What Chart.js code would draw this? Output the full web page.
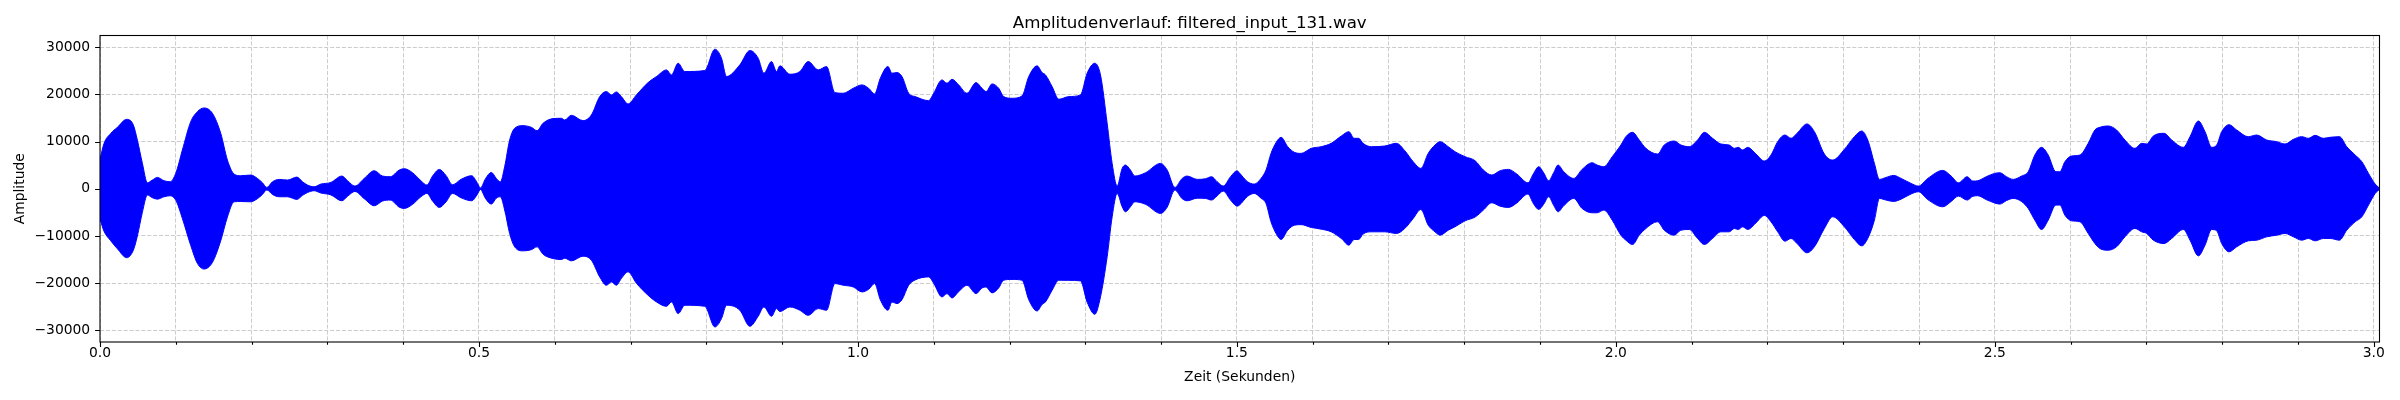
<!DOCTYPE html>
<html>
<head>
<meta charset="utf-8">
<title>Amplitudenverlauf</title>
<script src="https://cdn.jsdelivr.net/npm/chart.js@4.4.1/dist/chart.umd.min.js"></script>
<style>
  html, body { margin: 0; padding: 0; background: #fff; }
  #wave { display: block; }
</style>
</head>
<body>
<canvas id="wave" width="2400" height="400"></canvas>
<script>
// Envelope of the waveform (seconds / amplitude)
const times = [
  0.0000, 0.0053, 0.0141, 0.0229, 0.0352, 0.0440, 0.0493, 0.0559, 0.0625, 0.0691, 0.0757, 0.0845, 0.0924, 0.0999,
  0.1087, 0.1197, 0.1285, 0.1373, 0.1483, 0.1593, 0.1681, 0.1769, 0.1857, 0.1989, 0.2077, 0.2143, 0.2201, 0.2276,
  0.2364, 0.2474, 0.2597, 0.2672, 0.2738, 0.2826, 0.2914, 0.3046, 0.3191, 0.3266, 0.3363, 0.3486, 0.3618, 0.3728,
  0.3829, 0.3948, 0.4014, 0.4124, 0.4234, 0.4313, 0.4388, 0.4476, 0.4564, 0.4652, 0.4762, 0.4903, 0.4982,
  0.5018, 0.5088, 0.5163, 0.5229, 0.5282, 0.5339, 0.5405, 0.5471, 0.5581, 0.5691, 0.5766, 0.5845, 0.5977, 0.6087,
  0.6131, 0.6219, 0.6373, 0.6483, 0.6593, 0.6681, 0.6747, 0.6813, 0.6879, 0.6967, 0.7077, 0.7231, 0.7342, 0.7474,
  0.7540, 0.7628, 0.7716, 0.7980, 0.8112, 0.8200, 0.8266, 0.8442, 0.8574, 0.8684, 0.8759, 0.8860, 0.8926, 0.8970,
  0.9102, 0.9234, 0.9344, 0.9476, 0.9586, 0.9696, 0.9806, 0.9938,
  1.0053, 1.0141, 1.0220, 1.0295, 1.0396, 1.0449, 1.0515, 1.0581, 1.0669, 1.0757, 1.0933, 1.0999, 1.1109, 1.1175,
  1.1241, 1.1329, 1.1439, 1.1558, 1.1637, 1.1690, 1.1769, 1.1857, 1.1923, 1.2033, 1.2165, 1.2254, 1.2364, 1.2430,
  1.2474, 1.2562, 1.2650, 1.2782, 1.2936, 1.3024, 1.3125, 1.3200, 1.3288, 1.3354, 1.3420, 1.3486, 1.3530, 1.3596,
  1.3653, 1.3794, 1.3992, 1.4080, 1.4181, 1.4278, 1.4344, 1.4476, 1.4586, 1.4665, 1.4740, 1.4820, 1.4916, 1.5004,
  1.5031, 1.5141, 1.5229, 1.5318, 1.5384, 1.5450, 1.5516, 1.5583, 1.5671, 1.5759, 1.5847, 1.5980, 1.6112, 1.6244,
  1.6377, 1.6478, 1.6545, 1.6606, 1.6664, 1.6774, 1.6951, 1.7105, 1.7215, 1.7326, 1.7427, 1.7524, 1.7613, 1.7679,
  1.7789, 1.7877, 1.8010, 1.8142, 1.8252, 1.8363, 1.8473, 1.8583, 1.8694, 1.8839, 1.8914, 1.8981, 1.9047, 1.9113,
  1.9179, 1.9237, 1.9312, 1.9444, 1.9554, 1.9687, 1.9753, 1.9841, 1.9952,
  2.0066, 2.0132, 2.0220, 2.0308, 2.0396, 2.0550, 2.0638, 2.0770, 2.0858, 2.0968, 2.1078, 2.1167, 2.1276, 2.1386,
  2.1496, 2.1563, 2.1615, 2.1673, 2.1739, 2.1849, 2.1959, 2.2047, 2.2135, 2.2231, 2.2311, 2.2390, 2.2522, 2.2619,
  2.2751, 2.2861, 2.3015, 2.3147, 2.3244, 2.3323, 2.3411, 2.3477, 2.3565, 2.3666, 2.3763, 2.3895, 2.3992, 2.4115,
  2.4313, 2.4423, 2.4520, 2.4635, 2.4710, 2.4776, 2.4886, 2.4996,
  2.5066, 2.5154, 2.5242, 2.5352, 2.5440, 2.5528, 2.5616, 2.5704, 2.5805, 2.5858, 2.5924, 2.6012, 2.6122, 2.6232,
  2.6320, 2.6386, 2.6496, 2.6606, 2.6716, 2.6849, 2.6937, 2.7003, 2.7091, 2.7232, 2.7333, 2.7487, 2.7575, 2.7685,
  2.7773, 2.7861, 2.7927, 2.7993, 2.8090, 2.8191, 2.8345, 2.8455, 2.8587, 2.8719, 2.8829, 2.8939, 2.9049, 2.9137,
  2.9225, 2.9335, 2.9423, 2.9547, 2.9643, 2.9754, 2.9842, 2.9930, 3.0018, 3.0075
];

const upperEnvelope = [
  6200, 9600, 11700, 13000, 14700, 13500, 10300, 5400, 1270, 1840, 2400, 1700, 1480, 3250,
  8200, 14200, 16330, 17100, 15980, 11740, 6080, 3110, 2760, 2900, 2190, 1270, 280, 1480,
  1980, 1840, 2470, 1480, 780, 420, 990, 1340, 2690, 1700, 570, 2190, 3820, 2690,
  2550, 3960, 4240, 3390, 1700, 780, 2690, 4100, 2830, 850, 1980, 2760, 1130,
  150, 2190, 3460, 2190, 1480, 4670, 10320, 12800, 13360, 13010, 12300, 13860, 14850, 14920,
  14560, 15550, 14420, 15620, 19510, 20570, 19870, 20500, 19510, 17960, 19870, 22480, 23760, 25170,
  24110, 26580, 24820, 25030, 29550, 27640, 23760, 26240, 29270, 27640, 24460, 26940, 24820, 26020,
  24250, 24820, 26940, 25170, 25880, 20360, 20220, 21280,
  21990, 21280, 20080, 23400, 25880, 24460, 24600, 23760, 20220, 19510, 18660, 20220, 23050, 22340,
  23190, 21990, 20220, 22480, 21280, 20570, 22200, 21280, 19510, 19160, 19650, 23760, 26020, 24600,
  24110, 21630, 18950, 19510, 19870, 24460, 26580, 24110, 13860, 5370, 570, 4310, 5020, 3960,
  2690, 3390, 5370, 3960, 280, 2190, 2690, 1980, 2120, 2550, 1480, 570, 2550, 3820,
  3390, 1480, 990, 2190, 3960, 7490, 9760, 10890, 8910, 7710, 7490, 8550, 8910, 9620,
  11170, 12090, 10680, 10680, 9620, 8910, 9050, 9620, 8060, 5730, 4310, 7490, 9260, 9970,
  8910, 7850, 6790, 5940, 3960, 2900, 3820, 4100, 3110, 1270, 3250, 4670, 3390, 1700,
  3390, 5020, 3610, 2190, 4100, 5510, 5020, 4670, 6790,
  9260, 11030, 11950, 10320, 8550, 7350, 9260, 10110, 9260, 8910, 10320, 11950, 10680, 9470,
  9260, 8550, 8770, 8200, 8770, 7350, 5870, 7140, 9970, 11380, 10680, 11740, 13720, 12090,
  7350, 6080, 8340, 11030, 12230, 10320, 5370, 1980, 2400, 2830, 2190, 1130, 570, 2190,
  3890, 2690, 1270, 2550, 1630, 1700, 2550, 3250,
  3390, 2550, 1980, 2690, 3610, 7140, 8770, 7140, 3610, 3610, 5730, 6930, 7140, 9620,
  12440, 13010, 13290, 12440, 10320, 8550, 9620, 9470, 11170, 11740, 10320, 8770, 11030, 14350,
  12090, 8770, 9260, 12090, 13570, 12440, 11030, 11380, 10320, 9970, 9470, 10460, 11030, 10680,
  11310, 10680, 10890, 11030, 8910, 7140, 5730, 3250, 990, 140
];

const lowerEnvelope = [
  -6400, -9000, -11000, -12700, -14600, -13000, -10000, -5000, -1340, -1900, -2200, -1700, -1480, -2400,
  -6300, -12000, -15800, -17000, -15600, -11000, -6000, -2760, -2700, -2760, -2100, -1200, -250, -1200,
  -1700, -1700, -2260, -1400, -800, -420, -900, -1300, -2550, -1600, -570, -2100, -3600, -2600,
  -2400, -3900, -4170, -3300, -1700, -990, -2600, -3960, -2800, -990, -1900, -2550, -1100,
  -150, -2100, -3250, -2000, -1700, -4500, -9500, -12300, -13150, -12900, -12300, -13860, -14780, -14990,
  -14700, -15270, -14280, -15130, -18660, -20430, -19730, -20430, -19000, -17600, -20000, -22550, -23970, -24890,
  -23970, -26440, -24670, -24890, -29270, -27500, -24670, -25730, -29130, -27000, -25030, -27010, -25380, -26000,
  -25030, -25730, -26800, -25380, -25730, -20080, -20430, -20790,
  -21850, -21300, -20080, -23500, -25730, -24000, -24320, -23500, -20430, -19300, -18660, -20000, -22910, -22200,
  -23120, -21800, -20430, -22200, -21000, -20790, -22060, -21000, -19370, -19200, -19370, -23500, -25880, -24500,
  -23970, -21500, -19370, -19400, -19510, -24000, -26580, -22900, -14420, -5940, -990, -3800, -4880, -3800,
  -2760, -3300, -5230, -3900, -280, -2100, -2550, -2000, -2050, -2400, -1500, -500, -2400, -3680,
  -3500, -1600, -990, -2000, -3110, -7000, -9470, -10750, -8770, -7710, -7600, -8200, -8550, -9120,
  -10530, -11950, -10750, -10750, -9600, -9120, -9120, -9470, -8410, -6300, -4380, -7700, -9120, -9830,
  -8770, -8060, -6790, -6000, -4520, -2970, -3700, -3960, -3000, -1130, -3200, -4380, -3300, -1700,
  -3500, -4880, -3600, -2050, -4170, -5090, -5090, -4520, -6650,
  -9830, -10890, -11810, -9830, -8410, -7000, -8770, -9830, -8770, -8630, -10530, -11810, -10530, -9120,
  -9120, -8410, -8630, -8060, -8630, -7210, -5660, -7000, -9120, -11100, -10530, -11600, -13570, -12300,
  -8410, -5940, -8060, -10750, -12090, -10530, -6650, -2050, -2400, -2690, -2200, -1100, -640, -2300,
  -3820, -2700, -1560, -2400, -1600, -1480, -2300, -3000,
  -3250, -2500, -2050, -2700, -4170, -6650, -8630, -6650, -3460, -3460, -5590, -6790, -7000, -9470,
  -11600, -12660, -13010, -12300, -10180, -8410, -9120, -9470, -10890, -11600, -10530, -8630, -10890, -14210,
  -11950, -8630, -8910, -11600, -13360, -12300, -11030, -10890, -10180, -9830, -9470, -10180, -10890, -10530,
  -11030, -10530, -10530, -10890, -8770, -7000, -5940, -3460, -990, -140
];

// Axis ticks
const xMajorTicks = [0.0, 0.5, 1.0, 1.5, 2.0, 2.5, 3.0];
const xGridTicks = [0.0, 0.1, 0.2, 0.3, 0.4, 0.5, 0.6, 0.7, 0.8, 0.9, 1.0, 1.1, 1.2, 1.3, 1.4, 1.5,
  1.6, 1.7, 1.8, 1.9, 2.0, 2.1, 2.2, 2.3, 2.4, 2.5, 2.6, 2.7, 2.8, 2.9, 3.0];
const yTicks = [-30000, -20000, -10000, 0, 10000, 20000, 30000];

const X_MAX = 3.0075;
const Y_LIMIT = 32450;

(() => {
    'use strict';

    const BLUE = '#0000ff';
    const GRID = '#cccccc';
    const FONT = 'DejaVu Sans';

    Chart.defaults.font.family = FONT;
    Chart.defaults.color = '#000';

    const toPoints = values => values.map((v, i) => ({ x: times[i], y: v }));

    // Matplotlib-style frame and tick marks
    const axesFrame = {
        id: 'axesFrame',
        afterDatasetsDraw(chart) {
            const { ctx, chartArea: a, scales: { x, y } } = chart;
            ctx.save();
            ctx.strokeStyle = '#000';
            ctx.lineWidth = 1.1;
            ctx.beginPath();
            xGridTicks.forEach(v => {
                const px = Math.round(x.getPixelForValue(v)) + 0.5;
                const len = xMajorTicks.includes(v) ? 4.9 : 2.8;
                ctx.moveTo(px, a.bottom);
                ctx.lineTo(px, a.bottom + len);
            });
            yTicks.forEach(v => {
                const py = Math.round(y.getPixelForValue(v)) + 0.5;
                ctx.moveTo(a.left, py);
                ctx.lineTo(a.left - 4.9, py);
            });
            ctx.stroke();
            ctx.strokeRect(a.left, a.top, a.right - a.left, a.bottom - a.top);
            ctx.restore();
        }
    };

    const envelopeStyle = {
        borderColor: BLUE,
        backgroundColor: BLUE,
        borderWidth: 1,
        pointRadius: 0,
        cubicInterpolationMode: 'monotone'
    };

    function init() {
        const ctx = document.getElementById('wave').getContext('2d');
        new Chart(ctx, {
            type: 'line',
            data: {
                datasets: [
                    // upper edge filled down to the lower edge as one shape
                    { label: 'upper', data: toPoints(upperEnvelope), fill: '+1', ...envelopeStyle },
                    { label: 'lower', data: toPoints(lowerEnvelope), fill: false, ...envelopeStyle }
                ]
            },
            options: {
                responsive: false,
                animation: false,
                devicePixelRatio: 1,
                layout: { padding: { left: 0, right: 20.5, top: 0, bottom: 0 } },
                plugins: {
                    legend: { display: false },
                    tooltip: { enabled: false },
                    title: {
                        display: true,
                        text: 'Amplitudenverlauf: filtered_input_131.wav',
                        color: '#000',
                        font: { family: FONT, size: 16.67, weight: 'normal', lineHeight: 1.2 },
                        padding: { top: 13.2, bottom: 2.3 }
                    }
                },
                scales: {
                    x: {
                        type: 'linear',
                        min: 0,
                        max: X_MAX,
                        afterBuildTicks: scale => { scale.ticks = xGridTicks.map(v => ({ value: v })); },
                        afterFit: scale => { scale.height = 58; },
                        grid: { color: GRID, lineWidth: 1, drawTicks: false },
                        border: { display: false, dash: [4.1, 1.8] },
                        ticks: {
                            autoSkip: false,
                            maxRotation: 0,
                            padding: 3,
                            color: '#000',
                            font: { size: 13.89 },
                            callback: v => xMajorTicks.includes(v) ? v.toFixed(1) : ''
                        },
                        title: {
                            display: true,
                            text: 'Zeit (Sekunden)',
                            color: '#000',
                            font: { size: 13.89, lineHeight: 1.2 },
                            padding: { top: 0, bottom: 14.5 }
                        }
                    },
                    y: {
                        type: 'linear',
                        min: -Y_LIMIT,
                        max: Y_LIMIT,
                        afterBuildTicks: scale => { scale.ticks = yTicks.map(v => ({ value: v })); },
                        afterFit: scale => { scale.width = 100; },
                        grid: { color: GRID, lineWidth: 1, drawTicks: false },
                        border: { display: false, dash: [4.1, 1.8] },
                        ticks: {
                            padding: 9.8,
                            color: '#000',
                            font: { size: 13.89 },
                            callback: v => v.toString().replace('-', '\u2212')
                        },
                        title: {
                            display: true,
                            text: 'Amplitude',
                            color: '#000',
                            font: { size: 13.89, lineHeight: 1.2 },
                            padding: { top: 12.4, bottom: 0 }
                        }
                    }
                }
            },
            plugins: [axesFrame]
        });
    }

    document.addEventListener('DOMContentLoaded', init);
})();
</script>
</body>
</html>
